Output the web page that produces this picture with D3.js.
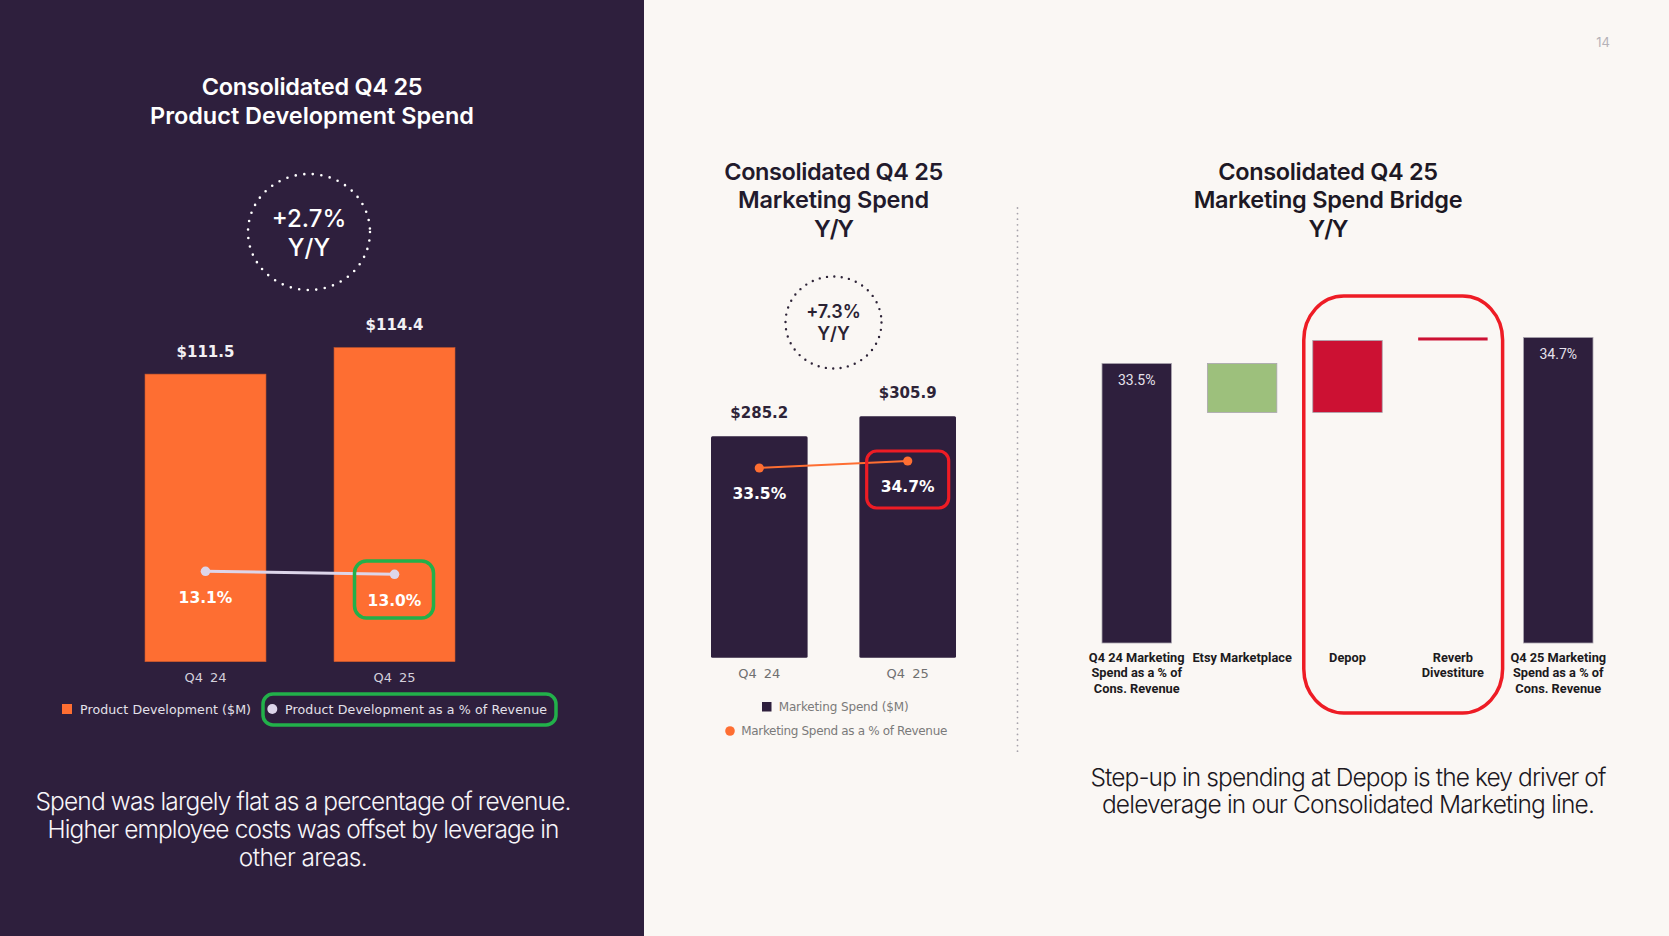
<!DOCTYPE html>
<html><head><meta charset="utf-8">
<script src="https://cdn.jsdelivr.net/npm/d3@7"></script>
<style>
html,body{margin:0;padding:0;background:#faf7f4;}
svg{display:block;}
</style></head>
<body>
<svg id="c" width="1669" height="936"></svg>
<script>
// ---------- data ----------
const pdCategories = ["Q4 24", "Q4 25"];
const pdSpend = [111.5, 114.4];          // Product Development ($M)
const pdPct = [13.1, 13.0];              // as % of revenue
const pdTitle = ["Consolidated Q4 25", "Product Development Spend"];
const pdBadge = ["+2.7%", "Y/Y"];
const pdLegend = ["Product Development ($M)", "Product Development as a % of Revenue"];
const pdCaption = ["Spend was largely flat as a percentage of revenue.",
                   "Higher employee costs was offset by leverage in",
                   "other areas."];

const mkCategories = ["Q4 24", "Q4 25"];
const mkSpend = [285.2, 305.9];          // Marketing Spend ($M)
const mkPct = [33.5, 34.7];              // as % of revenue
const mkTitle = ["Consolidated Q4 25", "Marketing Spend", "Y/Y"];
const mkBadge = ["+7.3%", "Y/Y"];
const mkLegend = ["Marketing Spend ($M)", "Marketing Spend as a % of Revenue"];

const brCategories = [["Q4 24 Marketing", "Spend as a % of", "Cons. Revenue"],
                      ["Etsy Marketplace"], ["Depop"], ["Reverb", "Divestiture"],
                      ["Q4 25 Marketing", "Spend as a % of", "Cons. Revenue"]];
const brValues = [33.5, -2.26, 3.32, 0.14, 34.7];
const brKinds = ["total", "delta", "delta", "delta", "total"];
const brTitle = ["Consolidated Q4 25", "Marketing Spend Bridge", "Y/Y"];
const brCaption = ["Step-up in spending at Depop is the key driver of",
                   "deleverage in our Consolidated Marketing line."];
const pageNumber = "14";

// ---------- style ----------
const C = {
  dark: "#2e1f3d", light: "#faf7f4", orange: "#fe6e32", lav: "#ddd5ea",
  green: "#9dc07c", red: "#cc1133", hlGreen: "#22b04a", hlRed: "#ee1c25"
};
const svg = d3.select("#c");
const TITLE_FONT = "Inter, 'Open Sans', sans-serif";
const DV = "'DejaVu Sans', Verdana, sans-serif";

function fit(sel, target) {
  sel.each(function () {
    const n = this.getNumberOfChars();
    const w = this.getComputedTextLength();
    d3.select(this).attr("letter-spacing", ((target - w) / Math.max(1, n - 1)).toFixed(3));
  });
}

// backgrounds
svg.append("rect").attr("x", 0).attr("y", 0).attr("width", 1669).attr("height", 936).attr("fill", C.light);
svg.append("rect").attr("x", 0).attr("y", 0).attr("width", 644).attr("height", 936).attr("fill", C.dark);

// page number
svg.append("text").attr("x", 1603).attr("y", 47).attr("text-anchor", "middle")
  .attr("font-family", TITLE_FONT).attr("font-size", 13).attr("fill", "#b5b2b8").text(pageNumber);

// ============ LEFT: Product development ============
{
  const g = svg.append("g");
  const tl = g.selectAll("text.t").data(pdTitle).join("text")
    .attr("x", 312).attr("y", (d, i) => 94.5 + i * 29)
    .attr("text-anchor", "middle").attr("font-family", TITLE_FONT).attr("font-weight", 600)
    .attr("font-size", 23.5).attr("fill", "#ffffff").text(d => d);
  fit(tl.filter((d, i) => i === 0), 221);
  fit(tl.filter((d, i) => i === 1), 324);

  g.append("ellipse").attr("cx", 309).attr("cy", 232).attr("rx", 61).attr("ry", 58)
    .attr("fill", "none").attr("stroke", "#ffffff").attr("stroke-width", 2.6)
    .attr("stroke-linecap", "round").attr("stroke-dasharray", "0 8.6");
  g.selectAll("text.b").data(pdBadge).join("text")
    .attr("x", 309).attr("y", (d, i) => 226.5 + i * 29).attr("text-anchor", "middle")
    .attr("font-family", TITLE_FONT).attr("font-weight", 500).attr("font-size", 24)
    .attr("fill", "#ffffff").text(d => d);

  const x = d3.scaleBand().domain(pdCategories).range([145, 455]).paddingInner(0.36).paddingOuter(0);
  const y = d3.scaleLinear().domain([80, 120]).range([661.7, 661.7 - 40 * 9.13]);
  const y2 = d3.scaleLinear().domain([10, 15]).range([664.3, 514.3]);
  const cx = d => x(d) + x.bandwidth() / 2;

  g.selectAll("rect.bar").data(pdCategories).join("rect")
    .attr("x", d => x(d)).attr("y", (d, i) => y(pdSpend[i]))
    .attr("width", x.bandwidth()).attr("height", (d, i) => y(80) - y(pdSpend[i]))
    .attr("fill", C.orange).attr("stroke", "#c9582c").attr("stroke-width", 0.6);
  g.selectAll("text.v").data(pdCategories).join("text")
    .attr("x", cx).attr("y", (d, i) => y(pdSpend[i]) - 17.5).attr("text-anchor", "middle")
    .attr("font-family", DV).attr("font-weight", "bold").attr("font-size", 15)
    .attr("fill", "#f2f0f4").text((d, i) => "$" + pdSpend[i].toFixed(1));

  const line = d3.line().x(d => cx(d)).y((d, i) => y2(pdPct[i]));
  g.append("path").datum(pdCategories).attr("d", line).attr("fill", "none")
    .attr("stroke", C.lav).attr("stroke-width", 3);
  g.selectAll("circle.p").data(pdCategories).join("circle")
    .attr("cx", cx).attr("cy", (d, i) => y2(pdPct[i])).attr("r", 4.8).attr("fill", C.lav);
  g.selectAll("text.p").data(pdCategories).join("text")
    .attr("x", cx).attr("y", (d, i) => y2(pdPct[i]) + 31.5).attr("text-anchor", "middle")
    .attr("font-family", DV).attr("font-weight", "bold").attr("font-size", 15.5)
    .attr("fill", "#ffffff").text((d, i) => pdPct[i].toFixed(1) + "%");

  // highlight around Q4 25 percentage
  g.append("rect").attr("x", cx(pdCategories[1]) - 40).attr("y", y2(pdPct[1]) - 13.3)
    .attr("width", 79).attr("height", 57).attr("rx", 12).attr("fill", "none")
    .attr("stroke", C.hlGreen).attr("stroke-width", 3.5);

  // axis
  const ax = g.append("g").attr("transform", "translate(0,661.7)")
    .call(d3.axisBottom(x).tickSize(0).tickPadding(11));
  ax.select(".domain").remove();
  ax.selectAll("text").attr("font-family", DV).attr("font-size", 13).attr("fill", "#d4d0dc").attr("dy", "0.71em")
    .attr("word-spacing", 3);

  // legend
  g.append("rect").attr("x", 62).attr("y", 704).attr("width", 10).attr("height", 10).attr("fill", C.orange);
  const l1 = g.append("text").attr("x", 80).attr("y", 713.5).attr("font-family", DV).attr("font-size", 12.6)
    .attr("fill", "#e4e1ea").text(pdLegend[0]);
  fit(l1, 171);
  g.append("circle").attr("cx", 272.3).attr("cy", 709).attr("r", 5).attr("fill", C.lav);
  const l2 = g.append("text").attr("x", 285).attr("y", 713.5).attr("font-family", DV).attr("font-size", 12.6)
    .attr("fill", "#e4e1ea").text(pdLegend[1]);
  fit(l2, 262);
  g.append("rect").attr("x", 263).attr("y", 694).attr("width", 293).attr("height", 31).attr("rx", 10)
    .attr("fill", "none").attr("stroke", C.hlGreen).attr("stroke-width", 3.5);

  // caption
  const cap = g.selectAll("text.c").data(pdCaption).join("text")
    .attr("x", 303).attr("y", (d, i) => 810 + i * 27.8).attr("text-anchor", "middle")
    .attr("font-family", TITLE_FONT).attr("font-weight", 300).attr("font-size", 24.5)
    .attr("fill", "#f7f5f9").text(d => d);
  const capW = [536, 512, 129];
  cap.each(function (d, i) { fit(d3.select(this), capW[i]); });
}

// ============ MIDDLE: Marketing spend ============
{
  const g = svg.append("g");
  const tl = g.selectAll("text.t").data(mkTitle).join("text")
    .attr("x", 833.5).attr("y", (d, i) => 179.5 + i * 28.5)
    .attr("text-anchor", "middle").attr("font-family", TITLE_FONT).attr("font-weight", 600)
    .attr("font-size", 23.5).attr("fill", "#221a2c").text(d => d);
  fit(tl.filter((d, i) => i === 0), 219);
  fit(tl.filter((d, i) => i === 1), 191);
  fit(tl.filter((d, i) => i === 2), 40);

  g.append("ellipse").attr("cx", 833.5).attr("cy", 322.5).attr("rx", 48).attr("ry", 46)
    .attr("fill", "none").attr("stroke", "#2e2438").attr("stroke-width", 2.4)
    .attr("stroke-linecap", "round").attr("stroke-dasharray", "0 7.4");
  g.selectAll("text.b").data(mkBadge).join("text")
    .attr("x", 833.5).attr("y", (d, i) => 317.5 + i * 22).attr("text-anchor", "middle")
    .attr("font-family", TITLE_FONT).attr("font-weight", 600).attr("font-size", 18)
    .attr("fill", "#2a2233").text(d => d);

  const x = d3.scaleBand().domain(mkCategories).range([711, 956]).paddingInner(0.349).paddingOuter(0);
  const y = d3.scaleLinear().domain([56, 320]).range([657.7, 657.7 - 264 * 0.966]);
  const y2 = d3.scaleLinear().domain([30, 40]).range([488.4, 430.1]);
  const cx = d => x(d) + x.bandwidth() / 2;

  g.selectAll("rect.bar").data(mkCategories).join("rect")
    .attr("x", d => x(d)).attr("y", (d, i) => y(mkSpend[i]))
    .attr("width", x.bandwidth()).attr("height", (d, i) => y(56) - y(mkSpend[i]))
    .attr("rx", 1.5).attr("fill", C.dark);
  g.selectAll("text.v").data(mkCategories).join("text")
    .attr("x", cx).attr("y", (d, i) => y(mkSpend[i]) - 18.5).attr("text-anchor", "middle")
    .attr("font-family", DV).attr("font-weight", "bold").attr("font-size", 15)
    .attr("fill", "#2e2438").text((d, i) => "$" + mkSpend[i].toFixed(1));

  const line = d3.line().x(d => cx(d)).y((d, i) => y2(mkPct[i]));
  g.append("path").datum(mkCategories).attr("d", line).attr("fill", "none")
    .attr("stroke", C.orange).attr("stroke-width", 2);
  g.selectAll("circle.p").data(mkCategories).join("circle")
    .attr("cx", cx).attr("cy", (d, i) => y2(mkPct[i])).attr("r", 4.6).attr("fill", C.orange);
  g.selectAll("text.p").data(mkCategories).join("text")
    .attr("x", cx).attr("y", (d, i) => y2(mkPct[i]) + 31.5).attr("text-anchor", "middle")
    .attr("font-family", DV).attr("font-weight", "bold").attr("font-size", 15.5)
    .attr("fill", "#ffffff").text((d, i) => mkPct[i].toFixed(1) + "%");

  g.append("rect").attr("x", cx(mkCategories[1]) - 41).attr("y", y2(mkPct[1]) - 10)
    .attr("width", 82).attr("height", 57).attr("rx", 10).attr("fill", "none")
    .attr("stroke", C.hlRed).attr("stroke-width", 3.2);

  const ax = g.append("g").attr("transform", "translate(0,657.7)")
    .call(d3.axisBottom(x).tickSize(0).tickPadding(11));
  ax.select(".domain").remove();
  ax.selectAll("text").attr("font-family", DV).attr("font-size", 13).attr("fill", "#707070").attr("dy", "0.71em")
    .attr("word-spacing", 3);

  g.append("rect").attr("x", 762).attr("y", 702).attr("width", 9.5).attr("height", 9.5).attr("fill", C.dark);
  const m1 = g.append("text").attr("x", 778.7).attr("y", 711).attr("font-family", DV).attr("font-size", 12)
    .attr("fill", "#7a7a7a").text(mkLegend[0]);
  fit(m1, 130);
  g.append("circle").attr("cx", 730).attr("cy", 731).attr("r", 4.8).attr("fill", C.orange);
  const m2 = g.append("text").attr("x", 741.3).attr("y", 735.2).attr("font-family", DV).attr("font-size", 12)
    .attr("fill", "#7a7a7a").text(mkLegend[1]);
  fit(m2, 206);

  // divider
  svg.append("line").attr("x1", 1017.5).attr("x2", 1017.5).attr("y1", 208).attr("y2", 756)
    .attr("stroke", "#a8a4ac").attr("stroke-width", 1.8).attr("stroke-linecap", "round")
    .attr("stroke-dasharray", "0 5.6");
}

// ============ RIGHT: bridge ============
{
  const g = svg.append("g");
  const tl = g.selectAll("text.t").data(brTitle).join("text")
    .attr("x", 1328).attr("y", (d, i) => 179.5 + i * 28.5)
    .attr("text-anchor", "middle").attr("font-family", TITLE_FONT).attr("font-weight", 600)
    .attr("font-size", 23.5).attr("fill", "#1d1824").text(d => d);
  fit(tl.filter((d, i) => i === 0), 220);
  fit(tl.filter((d, i) => i === 1), 269);
  fit(tl.filter((d, i) => i === 2), 40);

  const keys = brCategories.map(d => d.join(" "));
  const x = d3.scaleBand().domain(keys).range([1102, 1593]).paddingInner(0.341).paddingOuter(0);
  const y = d3.scaleLinear().domain([20.6, 36]).range([643, 643 - 15.4 * 21.67]);

  let run = 0;
  const segs = brValues.map((v, i) => {
    if (brKinds[i] === "total") { run = v; return { k: keys[i], lo: y.domain()[0], hi: v, kind: "total", v }; }
    const a = run, b = run + v; run = b;
    return { k: keys[i], lo: Math.min(a, b), hi: Math.max(a, b), kind: v < 0 ? "down" : "up", v };
  });
  const fill = s => s.kind === "total" ? C.dark : (s.kind === "down" ? C.green : C.red);

  g.selectAll("rect.bar").data(segs).join("rect")
    .attr("x", s => x(s.k)).attr("y", s => y(s.hi))
    .attr("width", x.bandwidth()).attr("height", s => Math.max(2.5, y(s.lo) - y(s.hi)))
    .attr("fill", fill)
    .attr("stroke", s => s.kind === "up" && Math.abs(s.v) < 0.5 ? "none" : "#aaa5ae")
    .attr("stroke-width", 0.8);

  g.selectAll("text.v").data(segs.filter(s => s.kind === "total")).join("text")
    .attr("x", s => x(s.k) + x.bandwidth() / 2).attr("y", s => y(s.hi) + 22)
    .attr("text-anchor", "middle").attr("font-family", "Roboto, Arial, sans-serif")
    .attr("font-size", 14).attr("fill", "#e6e2ec").text(s => s.v.toFixed(1) + "%");

  const lab = g.selectAll("text.cat").data(brCategories).join("text")
    .attr("text-anchor", "middle").attr("font-family", "Roboto, Arial, sans-serif")
    .attr("font-weight", 700).attr("font-size", 12.8).attr("fill", "#1c1a20")
    .attr("transform", (d, i) => `translate(${x(keys[i]) + x.bandwidth() / 2},661.5)`);
  lab.selectAll("tspan").data(d => d).join("tspan")
    .attr("x", 0).attr("y", (d, i) => i * 15.8).text(d => d);

  // highlight around Depop + Reverb
  const hx0 = x(keys[2]) - 9, hx1 = x(keys[3]) + x.bandwidth() + 15;
  g.append("rect").attr("x", hx0).attr("y", 296).attr("width", hx1 - hx0).attr("height", 417)
    .attr("rx", 40).attr("ry", 44).attr("fill", "none")
    .attr("stroke", C.hlRed).attr("stroke-width", 3.5);

  const cap = g.selectAll("text.c").data(brCaption).join("text")
    .attr("x", 1348).attr("y", (d, i) => 785.5 + i * 27.7).attr("text-anchor", "middle")
    .attr("font-family", TITLE_FONT).attr("font-weight", 300).attr("font-size", 24.5)
    .attr("fill", "#1c1822").text(d => d);
  const capW = [516, 493];
  cap.each(function (d, i) { fit(d3.select(this), capW[i]); });
}
</script>
</body></html>
